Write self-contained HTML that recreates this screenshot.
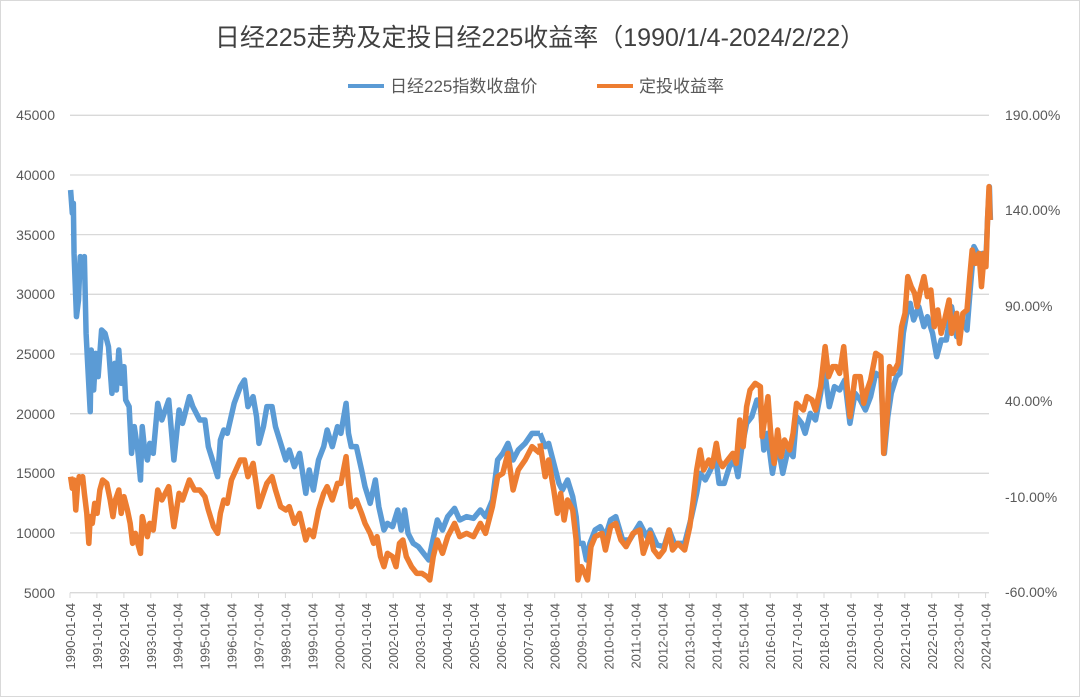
<!DOCTYPE html>
<html><head><meta charset="utf-8"><style>
html,body{margin:0;padding:0;background:#fff}
svg{display:block}
text{font-family:"Liberation Sans","Noto Sans CJK SC",sans-serif}
</style></head><body>
<svg width="1080" height="697" viewBox="0 0 1080 697" xmlns="http://www.w3.org/2000/svg">
<rect x="0.5" y="0.5" width="1079" height="696" fill="#fff" stroke="#d9d9d9"/>
<text x="540" y="46" text-anchor="middle" font-size="25" fill="#404040">日经225走势及定投日经225收益率（1990/1/4-2024/2/22）</text>
<line x1="348" y1="86" x2="384" y2="86" stroke="#5b9bd5" stroke-width="4"/>
<text x="390" y="92" font-size="17" fill="#595959">日经225指数收盘价</text>
<line x1="597" y1="86" x2="633" y2="86" stroke="#ed7d31" stroke-width="4"/>
<text x="639" y="92" font-size="17" fill="#595959">定投收益率</text>
<g stroke="#d9d9d9" stroke-width="1.3">
<line x1="70" x2="989" y1="115.3" y2="115.3"/>
<line x1="70" x2="989" y1="175" y2="175"/>
<line x1="70" x2="989" y1="234.6" y2="234.6"/>
<line x1="70" x2="989" y1="294.3" y2="294.3"/>
<line x1="70" x2="989" y1="354" y2="354"/>
<line x1="70" x2="989" y1="413.7" y2="413.7"/>
<line x1="70" x2="989" y1="473.3" y2="473.3"/>
<line x1="70" x2="989" y1="533" y2="533"/>
<line x1="70" x2="989" y1="592.7" y2="592.7"/>
</g>
<g font-size="14" fill="#595959" text-anchor="end">
<text x="55" y="120">45000</text><text x="55" y="180">40000</text><text x="55" y="240">35000</text>
<text x="55" y="299">30000</text><text x="55" y="359">25000</text><text x="55" y="419">20000</text>
<text x="55" y="478">15000</text><text x="55" y="538">10000</text><text x="55" y="598">5000</text>
</g>
<g font-size="14" fill="#595959">
<text x="1005" y="120">190.00%</text><text x="1005" y="215">140.00%</text><text x="1005" y="311">90.00%</text>
<text x="1005" y="406">40.00%</text><text x="1005" y="502">-10.00%</text><text x="1005" y="597">-60.00%</text>
</g>
<g fill="none" stroke-linejoin="round" stroke-width="5.5">
<g transform="translate(0,100) scale(0.34436,0.33333)">
<polyline vector-effect="non-scaling-stroke" stroke="#5b9bd5" points="205,270 210,340 213,310 215,460 222,650 228,600 233,470 240,520 245,470 250,700 255,800 262,935 265,750 272,870 278,760 285,830 295,690 305,700 315,740 325,880 333,790 338,870 345,750 352,850 360,800 365,900 375,920 382,1060 390,980 400,1050 408,1140 413,980 420,1050 428,1080 435,1030 445,1060 458,910 470,960 490,900 505,1080 520,930 530,970 550,890 560,920 580,960 595,960 605,1040 620,1090 632,1130 640,1020 650,990 660,1000 680,910 698,860 710,840 720,920 735,890 745,950 752,1030 765,980 775,920 790,920 800,980 815,1030 830,1080 840,1050 855,1100 870,1060 888,1180 898,1110 910,1170 925,1080 940,1040 950,990 965,1040 980,980 990,1000 1005,910 1012,1000 1020,1040 1035,1040 1050,1110 1060,1160 1075,1210 1090,1140 1100,1220 1115,1290 1125,1270 1140,1280 1155,1230 1165,1290 1175,1230 1185,1300 1200,1330 1215,1340 1230,1360 1245,1380 1255,1330 1270,1260 1285,1290 1300,1250 1320,1225 1335,1260 1355,1250 1375,1255 1395,1230 1410,1250 1430,1200 1445,1080 1460,1060 1475,1030 1490,1080 1505,1050 1525,1030 1545,1000 1568,1000"/>
<polyline vector-effect="non-scaling-stroke" stroke="#ed7d31" points="205,1130 210,1165 215,1140 220,1230 225,1160 230,1130 235,1140 240,1130 245,1180 252,1240 258,1330 262,1250 268,1270 275,1210 282,1240 290,1170 298,1140 310,1150 320,1200 328,1250 335,1200 345,1170 352,1240 360,1190 370,1230 378,1270 385,1330 393,1300 400,1330 408,1360 413,1250 420,1280 428,1310 435,1270 445,1290 458,1170 470,1200 490,1160 505,1280 520,1180 530,1200 550,1140 565,1170 580,1170 595,1190 605,1230 620,1280 632,1300 640,1240 650,1200 660,1210 672,1140 685,1110 698,1080 710,1080 720,1130 735,1090 745,1160 752,1220 765,1180 775,1150 790,1130 800,1170 815,1220 830,1230 840,1220 855,1270 870,1240 888,1320 898,1290 910,1310 925,1230 940,1180 950,1160 965,1200 980,1150 990,1150 1005,1070 1012,1150 1020,1220 1035,1200 1050,1240 1060,1270 1075,1300 1085,1330 1095,1310 1105,1370 1115,1400 1125,1360 1140,1370 1150,1400 1160,1330 1170,1320 1180,1370 1195,1400 1210,1420 1225,1420 1240,1430 1248,1440 1258,1370 1270,1320 1285,1360 1300,1310 1320,1270 1335,1310 1355,1300 1375,1310 1395,1270 1410,1300 1430,1220 1445,1130 1460,1120 1475,1060 1490,1170 1505,1110 1525,1080 1545,1040 1568,1060"/>
</g>
<g transform="translate(540,100) scale(0.34436,0.33333)">
<polyline vector-effect="non-scaling-stroke" stroke="#5b9bd5" points="0,1000 15,1040 25,1030 40,1090 55,1150 65,1170 80,1140 95,1190 105,1250 112,1330 125,1330 135,1380 145,1330 160,1290 175,1280 190,1310 205,1260 220,1250 240,1320 260,1320 290,1270 310,1310 320,1290 340,1335 360,1340 375,1290 390,1330 420,1330 440,1250 455,1180 465,1120 480,1140 495,1110 510,1070 520,1150 535,1150 550,1100 565,1080 575,1130 585,1050 600,970 615,950 630,900 640,920 650,1050 660,1000 675,1120 690,1030 705,1120 720,1050 735,1070 745,950 760,970 770,1000 785,940 800,960 815,880 825,800 840,920 855,860 870,870 885,840 900,970 915,880 930,900 945,930 960,890 975,820 990,830 1000,1060 1010,950 1020,880 1035,830 1045,820 1055,700 1065,640 1075,610 1085,660 1100,620 1115,680 1125,650 1140,700 1152,770 1165,720 1180,720 1195,620 1210,710 1225,660 1240,690 1250,560 1260,440 1275,470 1285,460 1295,480 1300,350 1305,260 1308,360"/>
<polyline vector-effect="non-scaling-stroke" stroke="#ed7d31" points="0,1030 15,1130 25,1080 40,1170 50,1240 60,1180 70,1260 80,1200 95,1230 105,1320 110,1440 120,1400 130,1420 138,1440 148,1340 160,1310 180,1300 190,1350 205,1280 220,1270 235,1320 250,1340 270,1300 290,1290 300,1360 320,1300 330,1350 345,1370 360,1350 375,1290 385,1350 400,1330 420,1350 435,1280 445,1200 455,1110 465,1050 475,1110 490,1080 500,1100 512,1030 520,1080 530,1100 545,1080 560,1060 570,1090 580,960 590,1040 600,920 610,870 625,850 640,860 645,1010 655,940 662,890 670,1000 680,1090 690,990 700,1070 710,1020 725,1050 735,1000 745,910 755,920 765,930 775,890 790,900 800,930 815,860 828,740 838,830 850,800 860,800 870,820 882,740 892,860 900,950 915,830 930,830 940,910 950,870 960,840 975,760 990,770 998,1060 1008,950 1015,800 1025,820 1040,790 1050,680 1060,640 1068,530 1078,560 1088,580 1095,620 1105,570 1115,530 1125,590 1135,570 1145,680 1155,630 1165,700 1175,660 1188,600 1195,700 1210,640 1218,730 1228,640 1240,630 1248,530 1255,450 1265,490 1275,460 1282,560 1290,460 1295,500 1300,350 1304,260 1307,360"/>
</g>
</g>
<g stroke="#d9d9d9" stroke-width="1">
<line x1="70" y1="592.7" x2="70" y2="598"/><line x1="96.9" y1="592.7" x2="96.9" y2="598"/><line x1="123.9" y1="592.7" x2="123.9" y2="598"/><line x1="150.8" y1="592.7" x2="150.8" y2="598"/><line x1="177.7" y1="592.7" x2="177.7" y2="598"/><line x1="204.7" y1="592.7" x2="204.7" y2="598"/><line x1="231.6" y1="592.7" x2="231.6" y2="598"/><line x1="258.5" y1="592.7" x2="258.5" y2="598"/><line x1="285.4" y1="592.7" x2="285.4" y2="598"/><line x1="312.4" y1="592.7" x2="312.4" y2="598"/><line x1="339.3" y1="592.7" x2="339.3" y2="598"/><line x1="366.2" y1="592.7" x2="366.2" y2="598"/><line x1="393.2" y1="592.7" x2="393.2" y2="598"/><line x1="420.1" y1="592.7" x2="420.1" y2="598"/><line x1="447" y1="592.7" x2="447" y2="598"/><line x1="474" y1="592.7" x2="474" y2="598"/><line x1="500.9" y1="592.7" x2="500.9" y2="598"/><line x1="527.8" y1="592.7" x2="527.8" y2="598"/><line x1="554.7" y1="592.7" x2="554.7" y2="598"/><line x1="581.7" y1="592.7" x2="581.7" y2="598"/><line x1="608.6" y1="592.7" x2="608.6" y2="598"/><line x1="635.5" y1="592.7" x2="635.5" y2="598"/><line x1="662.5" y1="592.7" x2="662.5" y2="598"/><line x1="689.4" y1="592.7" x2="689.4" y2="598"/><line x1="716.3" y1="592.7" x2="716.3" y2="598"/><line x1="743.3" y1="592.7" x2="743.3" y2="598"/><line x1="770.2" y1="592.7" x2="770.2" y2="598"/><line x1="797.1" y1="592.7" x2="797.1" y2="598"/><line x1="824" y1="592.7" x2="824" y2="598"/><line x1="851" y1="592.7" x2="851" y2="598"/><line x1="877.9" y1="592.7" x2="877.9" y2="598"/><line x1="904.8" y1="592.7" x2="904.8" y2="598"/><line x1="931.8" y1="592.7" x2="931.8" y2="598"/><line x1="958.7" y1="592.7" x2="958.7" y2="598"/><line x1="985.6" y1="592.7" x2="985.6" y2="598"/>
</g>
<g font-size="13" fill="#595959" text-anchor="end">
<text transform="translate(75,603) rotate(-90)">1990-01-04</text>
<text transform="translate(101.9,603) rotate(-90)">1991-01-04</text>
<text transform="translate(128.9,603) rotate(-90)">1992-01-04</text>
<text transform="translate(155.8,603) rotate(-90)">1993-01-04</text>
<text transform="translate(182.7,603) rotate(-90)">1994-01-04</text>
<text transform="translate(209.7,603) rotate(-90)">1995-01-04</text>
<text transform="translate(236.6,603) rotate(-90)">1996-01-04</text>
<text transform="translate(263.5,603) rotate(-90)">1997-01-04</text>
<text transform="translate(290.4,603) rotate(-90)">1998-01-04</text>
<text transform="translate(317.4,603) rotate(-90)">1999-01-04</text>
<text transform="translate(344.3,603) rotate(-90)">2000-01-04</text>
<text transform="translate(371.2,603) rotate(-90)">2001-01-04</text>
<text transform="translate(398.2,603) rotate(-90)">2002-01-04</text>
<text transform="translate(425.1,603) rotate(-90)">2003-01-04</text>
<text transform="translate(452,603) rotate(-90)">2004-01-04</text>
<text transform="translate(479,603) rotate(-90)">2005-01-04</text>
<text transform="translate(505.9,603) rotate(-90)">2006-01-04</text>
<text transform="translate(532.8,603) rotate(-90)">2007-01-04</text>
<text transform="translate(559.7,603) rotate(-90)">2008-01-04</text>
<text transform="translate(586.7,603) rotate(-90)">2009-01-04</text>
<text transform="translate(613.6,603) rotate(-90)">2010-01-04</text>
<text transform="translate(640.5,603) rotate(-90)">2011-01-04</text>
<text transform="translate(667.5,603) rotate(-90)">2012-01-04</text>
<text transform="translate(694.4,603) rotate(-90)">2013-01-04</text>
<text transform="translate(721.3,603) rotate(-90)">2014-01-04</text>
<text transform="translate(748.3,603) rotate(-90)">2015-01-04</text>
<text transform="translate(775.2,603) rotate(-90)">2016-01-04</text>
<text transform="translate(802.1,603) rotate(-90)">2017-01-04</text>
<text transform="translate(829,603) rotate(-90)">2018-01-04</text>
<text transform="translate(856,603) rotate(-90)">2019-01-04</text>
<text transform="translate(882.9,603) rotate(-90)">2020-01-04</text>
<text transform="translate(909.8,603) rotate(-90)">2021-01-04</text>
<text transform="translate(936.8,603) rotate(-90)">2022-01-04</text>
<text transform="translate(963.7,603) rotate(-90)">2023-01-04</text>
<text transform="translate(990.6,603) rotate(-90)">2024-01-04</text>
</g>
</svg>
</body></html>
